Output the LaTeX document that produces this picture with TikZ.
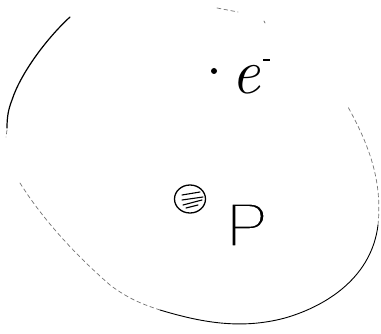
\documentclass[tikz,border=0pt]{standalone}
\usetikzlibrary{shapes.geometric}
\usepackage{fontspec}
\setsansfont{Liberation Sans}
\newcommand{\thinP}[1]{\special{pdf:literal direct 2 Tr 1 G 3.2 w}#1\special{pdf:literal direct 0 Tr 0 G}}
\begin{document}
\begin{tikzpicture}[x=1pt,y=-1pt,
  ink/.style={line width=1.2pt,line cap=round,line join=round},
  faint/.style={line width=0.7pt,black!55,dash pattern=on 4pt off 3pt,line cap=round},
  hatch/.style={line width=1.1pt,line cap=round},
  lbl/.style={inner sep=0pt}]
\useasboundingbox (0,0) rectangle (381,334);
% outer blob
\draw[ink] (70,17) .. controls (45,40) and (20,75) .. (12,100) .. controls (8,110) and (7,118) .. (7,128);
\draw[faint] (7,130) -- (6,137);
\draw[faint] (20,183) .. controls (40,215) and (70,250) .. (110,285) .. controls (130,300) and (145,305) .. (160,310);
\draw[ink,line width=0.9pt] (160,310) .. controls (200,322) and (240,330) .. (285,318) .. controls (330,305) and (372,275) .. (378,225);
\draw[faint] (378,225) .. controls (382,185) and (372,150) .. (348,107);
\draw[faint] (217,8) -- (238,12);
\draw[faint] (264,21) -- (265,23);
% electron
\fill (214,71) circle (3);
\node[lbl,font=\fontsize{64}{64}\selectfont\itshape] (e) at (246,80) {e};
\node[lbl,minimum width=7pt,minimum height=2.4pt,fill] (minus) at (266,60) {};
% proton
\node[draw,ellipse,line width=1.3pt,minimum width=31pt,minimum height=28pt,inner sep=0pt] (p) at (190,199) {};
\draw[hatch] (182,195) -- (200,192);
\draw[hatch] (182,200) -- (203,197);
\draw[hatch] (183,205) -- (202,200);
\draw[hatch] (186,208) -- (198,205);
\node[lbl,font=\fontsize{64}{64}\selectfont\sffamily] (P) at (247,225) {\thinP{P}};
\end{tikzpicture}
\end{document}
